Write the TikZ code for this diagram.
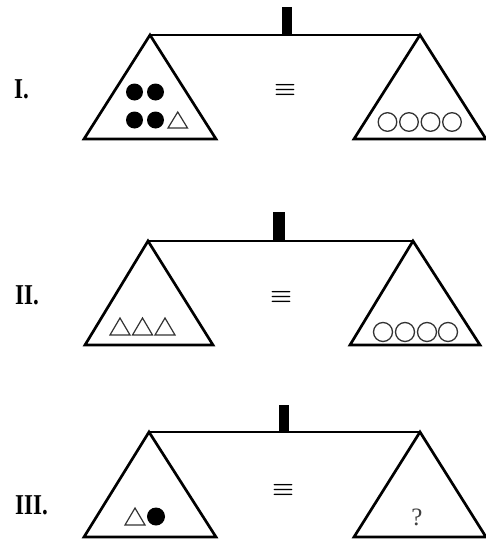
\documentclass[tikz,border=0pt]{standalone}
\usepackage{fontspec}
\setmainfont{Liberation Serif}
\usepackage{graphicx}
\newcommand{\tallbox}[1]{\scalebox{1}[1.25]{#1}}
\begin{document}
\begin{tikzpicture}[x=1pt,y=-1pt,
  pan/.style={draw=black,line width=2.7pt,line join=miter},
  beam/.style={draw=black,line width=2.7pt},
  post/.style={fill=black},
  dot/.style={fill=black},
  ring/.style={draw=black!80,line width=1.3pt},
  tri/.style={draw=black!80,line width=1.2pt,line join=miter},
  lbl/.style={font=\fontsize{23}{23}\selectfont\bfseries,anchor=west,inner sep=0pt},
  eqs/.style={inner sep=0pt}]
\useasboundingbox (0,0) rectangle (486,541);
% ---------- Panel I ----------
\node[lbl] (l1) at (14,89) {\tallbox{I.}};
\fill[post] (282,7) rectangle (292,34);
\draw[beam] (150,35) -- (420,35);
\draw[pan] (150,35) -- (84,139) -- (216,139) -- cycle;
\draw[pan] (420,35) -- (354,139) -- (486,139) -- cycle;
\node[eqs] (e1) at (285,90) {\resizebox{22pt}{11pt}{\boldmath$\equiv$}};
\fill[dot] (134.5,92) circle (8.5) (155.5,92) circle (8.5)
           (134.5,120) circle (8.5) (155.5,120) circle (8.5);
\draw[tri] (168,128) -- (187.5,128) -- (177.75,112) -- cycle;
\foreach \cx in {387.5,409,430.5,452}
  \draw[ring] (\cx,122) circle (9.3);
% ---------- Panel II ----------
\node[lbl] (l2) at (15,295) {\tallbox{II.}};
\fill[post] (273,212) rectangle (285,241);
\draw[beam] (148,241) -- (413,241);
\draw[pan] (148,241) -- (85,345) -- (213,345) -- cycle;
\draw[pan] (413,241) -- (350,345) -- (480,345) -- cycle;
\node[eqs] (e2) at (281,297) {\resizebox{22pt}{11pt}{\boldmath$\equiv$}};
\foreach \tx in {110,132.5,155}
  \draw[tri] (\tx,335) -- (\tx+20,335) -- (\tx+10,318) -- cycle;
\foreach \cx in {383,405,427,448}
  \draw[ring] (\cx,332) circle (9.5);
% ---------- Panel III ----------
\node[lbl] (l3) at (15,505) {\tallbox{III.}};
\fill[post] (279,405) rectangle (289,433);
\draw[beam] (149,432) -- (420,432);
\draw[pan] (149,432) -- (84,537) -- (216,537) -- cycle;
\draw[pan] (420,432) -- (354,537) -- (486,537) -- cycle;
\node[eqs] (e3) at (283,490) {\resizebox{22pt}{11pt}{\boldmath$\equiv$}};
\draw[tri] (125,525) -- (145,525) -- (135,508) -- cycle;
\fill[dot] (156,516.5) circle (9);
\node[inner sep=0pt,font=\fontsize{25}{25}\selectfont,text=black!75] (q) at (417,517) {?};
\end{tikzpicture}
\end{document}
